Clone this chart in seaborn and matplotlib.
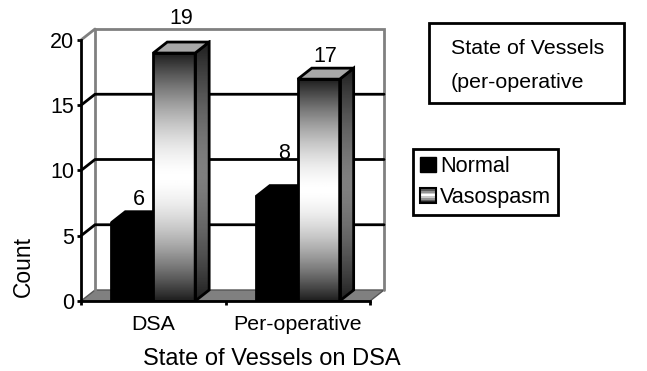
import numpy as np
import pandas as pd
import matplotlib
matplotlib.use('Agg')
import matplotlib.pyplot as plt
from matplotlib.patches import Polygon, Rectangle
from matplotlib.legend_handler import HandlerBase
import seaborn as sns

categories = ['DSA', 'Per-operative']
normal = [6, 8]
vasospasm = [19, 17]
series_names = ['Normal', 'Vasospasm']
y_ticks = [0, 5, 10, 15, 20]
x_label = 'State of Vessels on DSA'
y_label = 'Count'
box_lines = ['State of Vessels', '(per-operative']

sns.set_style('white')
plt.rcParams['font.family'] = ['Liberation Sans', 'DejaVu Sans']
plt.rcParams['text.color'] = 'black'
plt.rcParams['axes.labelcolor'] = 'black'
plt.rcParams['xtick.labelcolor'] = 'black'
plt.rcParams['ytick.labelcolor'] = 'black'

df = pd.DataFrame({
    'state': categories * 2,
    'count': normal + vasospasm,
    'series': [series_names[0]] * 2 + [series_names[1]] * 2,
})

W, H = 647, 371
fig = plt.figure(figsize=(W / 100, H / 100), dpi=100)
ax = fig.add_axes([81 / W, (H - 301) / H, 289 / W, 261 / H])

sns.barplot(data=df, x='state', y='count', hue='series', hue_order=series_names,
            palette=['black', 'white'], width=0.58, gap=0, saturation=1,
            edgecolor='black', linewidth=2, legend=False, zorder=6, ax=ax)

# depth of the fake 3d, in data units
DX = 14 / 144.5
DY = 11 / 13.05
GREY = '#808080'


def gradient(poly, x0, x1, y0, y1, low, high, z):
    t = np.abs(np.linspace(-1, 1, 200))[:, None] ** 1.6
    img = ax.imshow(high + (low - high) * t, extent=(x0, x1, y0, y1), aspect='auto',
                    cmap='gray', vmin=0, vmax=1, zorder=z)
    poly.set_transform(ax.transData)
    img.set_clip_path(poly)


# walls, floor and gridlines
ax.add_patch(Polygon([(-0.5, 0), (-0.5 + DX, DY), (1.5 + DX, DY), (1.5, 0)], fc=GREY, ec='#555555', lw=1,
                     clip_on=False, zorder=2))
ax.plot([-0.5 + DX, -0.5 + DX, 1.5 + DX, 1.5 + DX], [DY, 20 + DY, 20 + DY, DY], color=GREY, lw=2,
        clip_on=False, zorder=2, solid_joinstyle='miter')
ax.plot([-0.5, -0.5 + DX], [20, 20 + DY], color=GREY, lw=2, clip_on=False, zorder=2)
for v in y_ticks[1:-1]:
    ax.plot([-0.5, -0.5 + DX, 1.5 + DX], [v, v + DY, v + DY], color='black', lw=2, clip_on=False, zorder=3)

# 3d sides and tops
for i, cont in enumerate(ax.containers):
    for bar in cont:
        x0, w, h = bar.get_x(), bar.get_width(), bar.get_height()
        x1 = x0 + w
        side = [(x1, 0), (x1 + DX, DY), (x1 + DX, h + DY), (x1, h)]
        top = [(x0, h), (x0 + DX, h + DY), (x1 + DX, h + DY), (x1, h)]
        if i == 0:
            ax.add_patch(Polygon(side, fc='black', ec='black', lw=2, zorder=4))
            ax.add_patch(Polygon(top, fc='black', ec='black', lw=2, zorder=4))
        else:
            clip = Polygon(side, fc='none', ec='none')
            gradient(clip, x1, x1 + DX, 0, h + DY, 0.12, 0.5, 7)
            ax.add_patch(Polygon(side, fc='none', ec='black', lw=2, zorder=8))
            ax.add_patch(Polygon(top, fc='#a8a8a8', ec='black', lw=2, zorder=8))
            bar.set_facecolor('none')
            bar.set_zorder(8)
            clip = Polygon(bar.get_corners(), fc='none', ec='none')
            gradient(clip, x0, x1, 0, h, 0.12, 1.0, 7)

# value labels sit by hand in the original, so each has its own lift
lifts = [[23, 43], [35, 23]]
for cont, lift in zip(ax.containers, lifts):
    for bar, up in zip(cont, lift):
        h = bar.get_height()
        ax.annotate(f'{h:.0f}', (bar.get_x() + bar.get_width() / 2, h), xytext=(5, up * 0.72),
                    textcoords='offset points', ha='center', va='center', fontsize=15.5, zorder=10,
                    annotation_clip=False)

ax.set_xlim(-0.5, 1.5)
ax.set_ylim(0, 20)
ax.set_yticks(y_ticks)
ax.set_xticks([-0.5, 0.5, 1.5])
ax.set_xticklabels([])
ax.set_xticks([0, 1], labels=categories, minor=True)
ax.tick_params(axis='y', length=3, width=2, color='black', labelsize=15.5, pad=2, left=True)
ax.tick_params(axis='x', which='major', length=3, width=2, color='black', bottom=True)
ax.tick_params(axis='x', which='minor', length=0, labelsize=15.4, pad=10)
for s in ['top', 'right']:
    ax.spines[s].set_visible(False)
for s in ['left', 'bottom']:
    ax.spines[s].set_color('black')
    ax.spines[s].set_linewidth(2)
    ax.spines[s].set_zorder(9)
ax.patch.set_alpha(0)

ax.set_xlabel(x_label, fontsize=17)
ax.xaxis.set_label_coords(0.661, -0.18)
ax.set_ylabel(y_label, fontsize=16.4)
ax.yaxis.set_label_coords(-0.16, 0.134)


class GradientHandler(HandlerBase):
    def create_artists(self, legend, orig, xd, yd, width, height, fontsize, trans):
        parts = []
        n = 9
        for k in range(n):
            g = 0.15 + 0.85 * (1 - abs(2 * k / (n - 1) - 1))
            parts.append(Rectangle((xd, -yd + height * k / n), width, height / n + 0.2, fc=str(g), ec='none',
                                   transform=trans))
        parts.append(Rectangle((xd, -yd), width, height, fc='none', ec='black', lw=1.5, transform=trans))
        return parts


handles = [Rectangle((0, 0), 1, 1, fc='black', ec='black'), Rectangle((0, 0), 1, 1)]
leg = fig.legend(handles, series_names, loc='upper left', bbox_to_anchor=(413 / W, 1 - 149 / H),
                 handler_map={handles[1]: GradientHandler()}, fontsize=15.6, frameon=True, fancybox=False,
                 edgecolor='black', framealpha=1, borderpad=0.33, handlelength=0.72, handleheight=0.72,
                 handletextpad=0.2, labelspacing=0.45, borderaxespad=0)
leg.get_frame().set_linewidth(2)

fig.add_artist(Rectangle((429 / W, 1 - 103 / H), 195 / W, 80 / H, fc='white', ec='black', lw=2,
                         transform=fig.transFigure))
fig.text(451 / W, 1 - 48 / H, box_lines[0], fontsize=15.4, va='center')
fig.text(451 / W, 1 - 83 / H, box_lines[1], fontsize=15.4, va='center')

fig.savefig('out.png', dpi=100)
